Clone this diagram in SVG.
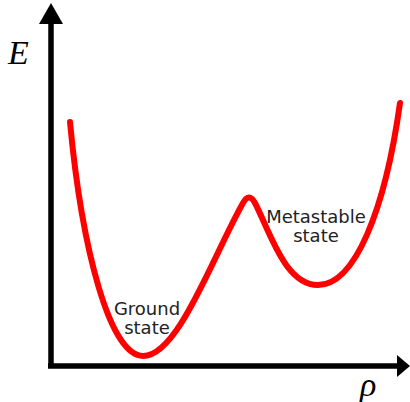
<svg xmlns="http://www.w3.org/2000/svg" width="410" height="402" viewBox="0 0 410 402">
<style>
.axis{stroke:#000;stroke-width:5.5;fill:none}
.curve{stroke:#ff0000;stroke-width:6;fill:none;stroke-linecap:round;stroke-linejoin:round}
.lbl{font-family:"DejaVu Sans",sans-serif;font-size:18px;fill:#222;text-anchor:middle}
.var{font-family:"Liberation Serif",serif;font-style:italic;font-size:34px;fill:#000}
</style>
<rect width="410" height="402" fill="#fff"/>
<g id="axes">
<line class="axis" x1="51" y1="368" x2="51" y2="20"/>
<polygon points="51,3 39,24 63,24" fill="#000"/>
<line class="axis" x1="48" y1="366" x2="398" y2="366"/>
<polygon points="410,366 397,355 397,377" fill="#000"/>
</g>
<g id="curve">
<path class="curve" d="M70,122 C82,250 110,356 143,356 C178,356 212,258 243,203 Q249,192 255,203 C270,232 285,285 318,285 C355,285 385,210 400,103"/>
</g>
<g id="labels">
<text class="var" x="8" y="64">E</text>
<text class="var" x="360" y="396">ρ</text>
<text class="lbl" x="147" y="315">Ground</text>
<text class="lbl" x="147" y="334">state</text>
<text class="lbl" x="316" y="223">Metastable</text>
<text class="lbl" x="316" y="242">state</text>
</g>
</svg>
